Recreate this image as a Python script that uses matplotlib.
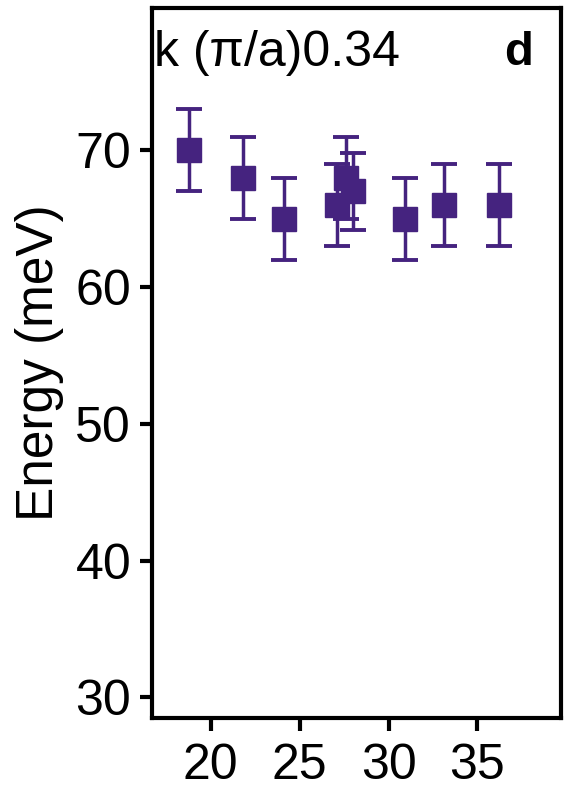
import numpy as np
import matplotlib.pyplot as plt

plt.rcParams['font.family'] = ['Liberation Sans', 'DejaVu Sans']

# fluence-like x values, energy and error
x_vals = [18.8, 21.8, 24.1, 27.1, 27.6, 28.0, 30.9, 33.1, 36.2]
energy = [70.0, 68.0, 65.0, 66.0, 68.0, 67.0, 65.0, 66.0, 66.0]
err = [3.0, 3.0, 3.0, 3.0, 3.0, 2.8, 3.0, 3.0, 3.0]

x_ticks = [20, 25, 30, 35]
y_ticks = [30, 40, 50, 60, 70]

colour = '#45237f'

fig = plt.figure(figsize=(5.65, 7.94), dpi=100)
ax = fig.add_axes([0.269, 0.0957, 0.724, 0.894])

ax.errorbar(x_vals, energy, yerr=err, fmt='s', color=colour,
            markersize=17, elinewidth=2.5, capsize=9.5, capthick=2.8)

ax.set_xlim(16.7, 39.7)
ax.set_ylim(28.5, 80.4)
ax.set_xticks(x_ticks)
ax.set_yticks(y_ticks)
ax.tick_params(direction='out', length=9, width=3, labelsize=36)
ax.tick_params(axis='x', pad=9)
ax.tick_params(axis='y', pad=6)

for s in ax.spines.values():
    s.set_linewidth(3)

ax.set_ylabel('Energy (meV)', fontsize=37, labelpad=8)

ax.text(0.005, 0.937, 'k (\u03c0/a)0.34', transform=ax.transAxes,
        fontsize=36, va='center', ha='left')
ax.text(0.895, 0.937, 'd', transform=ax.transAxes, fontsize=34,
        fontweight='bold', va='center', ha='center')

fig.savefig('out.png', dpi=100)
